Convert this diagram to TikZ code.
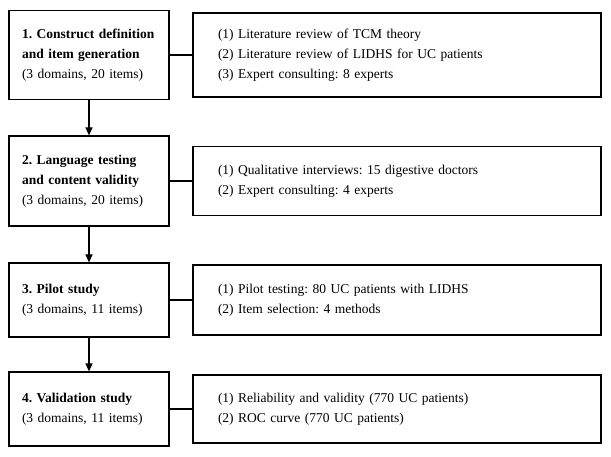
\documentclass[tikz,border=0pt]{standalone}
\usepackage{fontspec}
\setmainfont{Liberation Serif}
\usetikzlibrary{arrows.meta}
\frenchspacing
\begin{document}
\begin{tikzpicture}[x=1pt,y=-1pt,
  every node/.style={font=\fontsize{13.5}{20}\selectfont},
  stagebox/.style={draw, line width=1.2pt, minimum width=160pt, align=left, text width=134pt, inner xsep=13pt, anchor=center},
  infobox/.style={draw, line width=1.2pt, minimum width=408pt, align=left, text width=358pt, inner xsep=25pt, anchor=center},
  link/.style={line width=1.2pt},
  flow/.style={line width=1.2pt, -{Triangle[length=8pt,width=7pt]}}]
\useasboundingbox (0,0) rectangle (611,457);
\node[stagebox, minimum height=89pt] (s1) at (89,55) {\mbox{\textbf{1. Construct definition}}\\\mbox{\textbf{and item generation}}\\\mbox{(3 domains, 20 items)}};
\node[infobox, minimum height=84pt] (r1) at (397,55) {(1) Literature review of TCM theory\\(2) Literature review of LIDHS for UC patients\\(3) Expert consulting: 8 experts};
\node[stagebox, minimum height=90pt] (s2) at (89,181) {\mbox{\textbf{2. Language testing}}\\\mbox{\textbf{and content validity}}\\\mbox{(3 domains, 20 items)}};
\node[infobox, minimum height=69pt] (r2) at (397,181) {(1) Qualitative interviews: 15 digestive doctors\\(2) Expert consulting: 4 experts};
\node[stagebox, minimum height=74pt] (s3) at (89,300) {\mbox{\textbf{3. Pilot study}}\\\mbox{(3 domains, 11 items)}};
\node[infobox, minimum height=70pt] (r3) at (397,300) {(1) Pilot testing: 80 UC patients with LIDHS\\(2) Item selection: 4 methods};
\node[stagebox, minimum height=74pt] (s4) at (89,409) {\mbox{\textbf{4. Validation study}}\\\mbox{(3 domains, 11 items)}};
\node[infobox, minimum height=68pt] (r4) at (397,409) {(1) Reliability and validity (770 UC patients)\\(2) ROC curve (770 UC patients)};
\draw[link] (s1) -- (r1);
\draw[link] (s2) -- (r2);
\draw[link] (s3) -- (r3);
\draw[link] (s4) -- (r4);
\draw[flow] (s1) -- (s2);
\draw[flow] (s2) -- (s3);
\draw[flow] (s3) -- (s4);
\end{tikzpicture}
\end{document}
